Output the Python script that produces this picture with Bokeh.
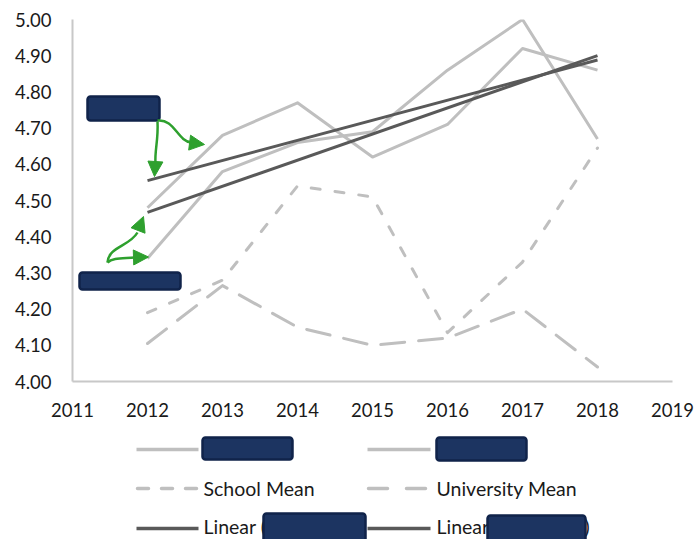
from bokeh.plotting import figure
from bokeh.layouts import column
from bokeh.models import Range1d, FixedTicker, NumeralTickFormatter, Arrow, NormalHead
from bokeh.core.properties import value
from bokeh.embed import file_html
from bokeh.resources import INLINE

# ---------------- data ----------------
years = [2012, 2013, 2014, 2015, 2016, 2017, 2018]
series_a = [4.48, 4.68, 4.77, 4.62, 4.71, 4.92, 4.86]
series_b = [4.34, 4.58, 4.66, 4.69, 4.86, 5.00, 4.67]
school_mean = [4.19, 4.28, 4.54, 4.51, 4.135, 4.33, 4.645]
university_mean = [4.105, 4.265, 4.15, 4.10, 4.12, 4.20, 4.04]
trend_years = [2012, 2018]
trend_a = [4.555, 4.888]
trend_b = [4.467, 4.900]

x_ticks = [2011, 2012, 2013, 2014, 2015, 2016, 2017, 2018, 2019]
y_ticks = [4.00, 4.10, 4.20, 4.30, 4.40, 4.50, 4.60, 4.70, 4.80, 4.90, 5.00]
legend_labels = ["School Mean", "University Mean", "Linear (", "Linear ("]

# ---------------- styles ----------------
FONT = "Lato"
TXT = "#1a1a1a"
GRAY = "#BFBFBF"
DARK = "#595959"
AXIS = "#C8C8C8"
NAVY = "#1C3461"
NAVY_EDGE = "#10234A"
GREEN = "#2EA02E"
SHORT_DASH = "9 15"
LONG_DASH = "24 14"

p = figure(width=696, height=425,
           x_range=Range1d(2011, 2019), y_range=Range1d(4.0, 5.0),
           output_backend="svg", toolbar_location=None,
           min_border_left=72, min_border_right=24,
           min_border_top=19, min_border_bottom=44)
p.outline_line_color = None
p.xgrid.visible = False
p.ygrid.visible = False
p.background_fill_color = "white"
p.border_fill_color = "white"

for ax in (p.xaxis[0], p.yaxis[0]):
    ax.axis_line_color = AXIS
    ax.axis_line_width = 2
    ax.major_tick_line_color = None
    ax.minor_tick_line_color = None
    ax.major_label_text_font = FONT
    ax.major_label_text_font_size = "18.5px"
    ax.major_label_text_color = TXT
p.xaxis.ticker = FixedTicker(ticks=x_ticks)
p.yaxis.ticker = FixedTicker(ticks=y_ticks)
p.yaxis.formatter = NumeralTickFormatter(format="0.00")
p.xaxis.major_label_standoff = 15
p.yaxis.major_label_standoff = 15

# series
p.line(years, series_a, line_color=GRAY, line_width=3, line_join="round")
p.line(years, series_b, line_color=GRAY, line_width=3, line_join="round")
p.line(years, school_mean, line_color=GRAY, line_width=3, line_dash=SHORT_DASH,
       line_cap="round", line_join="round")
p.line(years, university_mean, line_color=GRAY, line_width=3, line_dash=LONG_DASH,
       line_cap="round", line_join="round")
p.line(trend_years, trend_a, line_color=DARK, line_width=3)
p.line(trend_years, trend_b, line_color=DARK, line_width=3)

# ---------------- annotations (redacted boxes + green arrows) ----------------
def X(px):
    return 2011 + (px - 72) / 75.0

def Y(py):
    return 4.0 + (381 - py) / 362.0

p.quad(left=[X(87), X(79)], right=[X(159), X(180)],
       top=[Y(96), Y(272)], bottom=[Y(120), Y(289)],
       fill_color=NAVY, line_color=NAVY_EDGE, line_width=2.5, border_radius=3)

curves = [
    # (x0,y0, cx0,cy0, cx1,cy1, x1,y1) in page pixels
    (157, 121, 158, 140, 154, 150, 155, 163),
    (157, 120, 174, 118, 177, 141, 191, 142),
    (107, 262, 108, 246, 129, 246, 137, 232),
    (107, 262, 112, 257, 122, 258, 134, 257),
]
p.bezier(x0=[X(c[0]) for c in curves], y0=[Y(c[1]) for c in curves],
         cx0=[X(c[2]) for c in curves], cy0=[Y(c[3]) for c in curves],
         cx1=[X(c[4]) for c in curves], cy1=[Y(c[5]) for c in curves],
         x1=[X(c[6]) for c in curves], y1=[Y(c[7]) for c in curves],
         line_color=GREEN, line_width=2.5)

heads = [
    ((155, 160), (154, 176)),
    ((188, 142), (204, 144)),
    ((136, 234), (143, 216)),
    ((131, 257), (148, 256.5)),
]
for (sx, sy), (ex, ey) in heads:
    p.add_layout(Arrow(x_start=X(sx), y_start=Y(sy), x_end=X(ex), y_end=Y(ey),
                       line_alpha=0, line_width=0,
                       end=NormalHead(size=15, fill_color=GREEN, line_color=GREEN,
                                      line_width=1)))

# ---------------- legend (drawn below the chart) ----------------
# its frame is aligned with the chart frame (page x 72..672), so x = page pixels
leg = figure(width=696, height=114, x_range=Range1d(72, 672), y_range=Range1d(0, 114),
             output_backend="svg", toolbar_location=None,
             min_border_left=72, min_border_right=24, min_border_top=0, min_border_bottom=0,
             x_axis_type=None, y_axis_type=None)
leg.outline_line_color = None
leg.xgrid.visible = False
leg.ygrid.visible = False

# swatches
leg.line([136, 198], [90, 90], line_color=GRAY, line_width=3.5)
leg.line([367, 430], [90, 90], line_color=GRAY, line_width=3.5)
leg.line([137, 198], [51, 51], line_color=GRAY, line_width=3.5, line_dash="11 13",
         line_cap="round")
leg.line([368, 430], [51, 51], line_color=GRAY, line_width=3.5, line_dash="19 19",
         line_cap="round")
leg.line([136, 198], [11, 11], line_color=DARK, line_width=3.5)
leg.line([367, 430], [11, 11], line_color=DARK, line_width=3.5)

leg.text(x=[203, 436, 203, 436, 584], y=[51, 51, 13, 13, 13],
         text=legend_labels + [")"],
         text_font=value(FONT), text_font_size="19.5px", text_color=TXT,
         text_baseline="middle", text_align="left")

leg.quad(left=[202, 436, 263, 487], right=[292, 526, 365, 585],
         bottom=[80, 79, -6, -6], top=[102, 102, 26, 24],
         fill_color=NAVY, line_color=NAVY_EDGE, line_width=2.5, border_radius=3)

layout = column(p, leg, spacing=0)
open("out.html", "w").write(file_html(layout, INLINE))
